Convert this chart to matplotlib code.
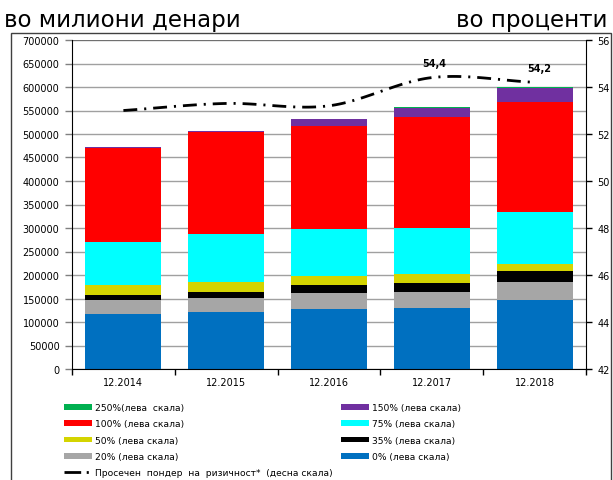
import numpy as np
import matplotlib
matplotlib.use("Agg")
import matplotlib.pyplot as plt
from matplotlib.patches import Patch, Rectangle
from matplotlib.lines import Line2D

plt.rcParams['font.family'] = ['DejaVu Sans']
plt.rcParams['lines.scale_dashes'] = False

# ---- data ----
periods = ["12.2014", "12.2015", "12.2016", "12.2017", "12.2018"]

w0 = [117000, 121300, 128300, 130400, 147500]     # 0%
w20 = [30500, 29800, 32800, 33400, 37000]        # 20%
w35 = [10000, 12800, 18300, 19800, 23400]        # 35%
w50 = [21900, 21900, 18500, 18500, 15500]        # 50%
w75 = [91500, 100900, 99400, 98500, 111300]      # 75%
w100 = [199400, 217700, 219800, 234900, 234000]  # 100%
w150 = [2000, 2100, 14300, 19100, 28500]         # 150%
w250 = [300, 300, 500, 2100, 2100]               # 250%

avg_weight = [53.0, 53.3, 53.2, 54.4, 54.2]      # right scale, %
labelled_points = [3, 4]

series = [
    (w0, "#0070C0", "0% (лева скала)"),
    (w20, "#A6A6A6", "20% (лева скала)"),
    (w35, "#000000", "35% (лева скала)"),
    (w50, "#D4D400", "50% (лева скала)"),
    (w75, "#00FFFF", "75% (лева скала)"),
    (w100, "#FF0000", "100% (лева скала)"),
    (w150, "#7030A0", "150% (лева скала)"),
    (w250, "#00B050", "250%(лева  скала)"),
]
line_label = "Просечен  пондер  на  ризичност*  (десна скала)"

# ---- figure ----
fig = plt.figure(figsize=(6.13, 4.81), dpi=100)
W, H = 613, 481

def fx(px):
    return px / W

def fy(py):
    return 1 - py / H

# outer frame
fig.patches.append(Rectangle((fx(11), fy(490)), fx(611) - fx(11), fy(34) - fy(490),
                             transform=fig.transFigure, fill=False,
                             edgecolor="#404040", linewidth=1.0))

fig.text(fx(4), fy(27), "во милиони денари", fontsize=16.5, ha="left", va="baseline")
fig.text(fx(608), fy(27), "во проценти", fontsize=16.5, ha="right", va="baseline")

ax = fig.add_axes([fx(72), fy(370), fx(586) - fx(72), fy(41) - fy(370)])
x = np.arange(len(periods))
bottom = np.zeros(len(periods))
for vals, col, lab in series:
    ax.bar(x, vals, width=0.74, bottom=bottom, color=col, edgecolor="none", zorder=2)
    bottom += np.array(vals)

ax.set_ylim(0, 700000)
ax.set_yticks(np.arange(0, 700001, 50000))
ax.set_yticklabels([str(v) for v in range(0, 700001, 50000)])
ax.yaxis.grid(True, color="#A0A0A0", linewidth=1.0, zorder=0)
ax.set_axisbelow(True)
ax.set_xlim(-0.5, len(periods) - 0.5)
ax.set_xticks(np.arange(-0.5, len(periods), 1.0))
ax.set_xticklabels([])
ax.set_xticks(x, minor=True)
ax.set_xticklabels(periods, minor=True)
ax.tick_params(axis="x", which="major", length=4, width=1, direction="out")
ax.tick_params(axis="x", which="minor", length=0, pad=6, labelsize=7)
ax.tick_params(axis="y", length=5, width=1, labelsize=7, pad=4, color="#808080")
for side in ("top", "right"):
    ax.spines[side].set_visible(False)
ax.spines["left"].set_color("black")
ax.spines["bottom"].set_color("black")
ax.axhline(700000, color="#707070", linewidth=1.5, zorder=1)

# right scale
ax2 = ax.twinx()
ax2.set_ylim(42, 56)
ax2.set_yticks(np.arange(42, 57, 2))
ax2.tick_params(axis="y", length=4, width=1, labelsize=7, pad=4)
for side in ("top", "left", "bottom"):
    ax2.spines[side].set_visible(False)
ax2.spines["right"].set_color("black")

# smoothed line through the average risk weights (Catmull-Rom)
def smooth(xs, ys, n=30):
    xs = np.asarray(xs, float)
    ys = np.asarray(ys, float)
    px = np.concatenate([[2 * xs[0] - xs[1]], xs, [2 * xs[-1] - xs[-2]]])
    py = np.concatenate([[2 * ys[0] - ys[1]], ys, [2 * ys[-1] - ys[-2]]])
    outx, outy = [], []
    for i in range(1, len(px) - 2):
        t = np.linspace(0, 1, n, endpoint=(i == len(px) - 3))
        for p, out in ((px, outx), (py, outy)):
            p0, p1, p2, p3 = p[i - 1], p[i], p[i + 1], p[i + 2]
            out.extend(0.5 * ((2 * p1) + (-p0 + p2) * t
                              + (2 * p0 - 5 * p1 + 4 * p2 - p3) * t ** 2
                              + (-p0 + 3 * p1 - 3 * p2 + p3) * t ** 3))
    return np.array(outx), np.array(outy)

sx, sy = smooth(x, avg_weight)
ax2.plot(sx, sy, color="black", linewidth=2, dashes=(10, 5, 1.5, 5), zorder=5)
for i in labelled_points:
    ax2.annotate(f"{avg_weight[i]:.1f}".replace(".", ","), (x[i], avg_weight[i]),
                 xytext=(3 if i == 4 else 2, 7), textcoords="offset points",
                 ha="center", va="bottom", fontsize=7, fontweight="bold")

# ---- legend ----
leg_order_left = [7, 5, 3, 1]
leg_order_right = [6, 4, 2, 0]
h_left = [Patch(facecolor=series[i][1], edgecolor="none", label=series[i][2]) for i in leg_order_left]
h_left.append(Line2D([], [], color="black", linewidth=2, dashes=(12, 4, 1.5, 3), label=line_label))
h_right = [Patch(facecolor=series[i][1], edgecolor="none", label=series[i][2]) for i in leg_order_right]

common = dict(frameon=False, fontsize=6.6, handlelength=3.1, handleheight=0.55,
              labelspacing=0.8, handletextpad=0.3, borderpad=0, borderaxespad=0)
l1 = fig.legend(handles=h_left, loc="upper left", bbox_to_anchor=(fx(64), fy(404)), **common)
l2 = fig.legend(handles=h_right, loc="upper left", bbox_to_anchor=(fx(341), fy(404)), **common)

fig.savefig("out.png", dpi=100)
